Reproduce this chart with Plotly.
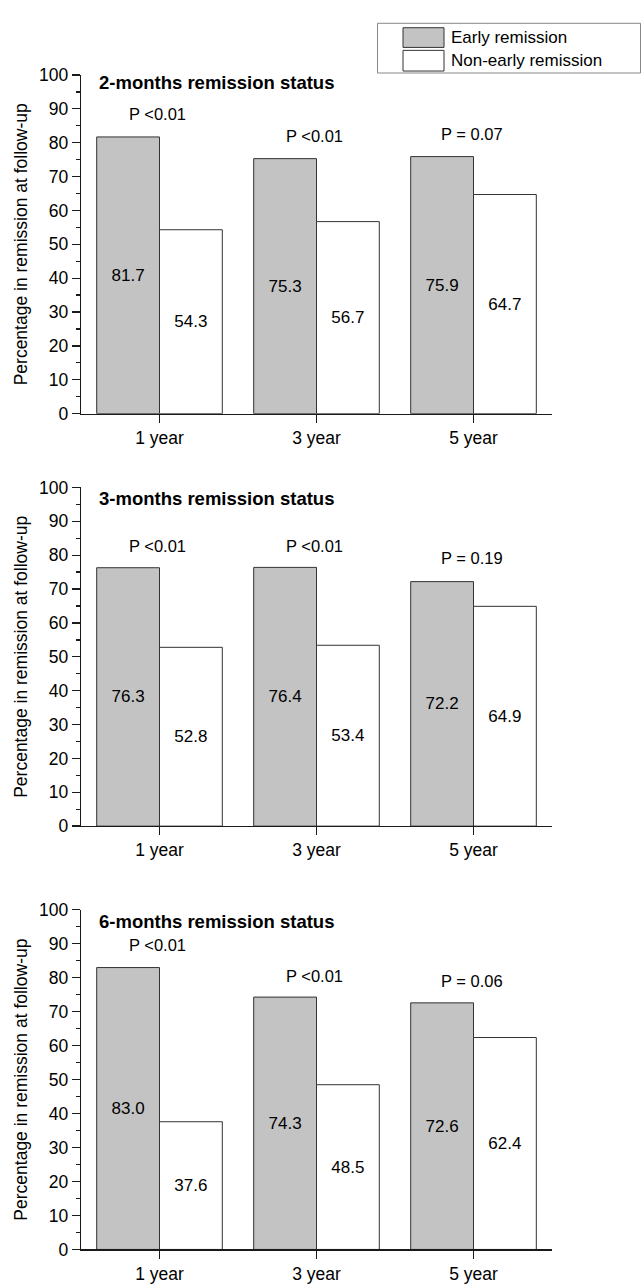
import plotly.graph_objects as go

categories = ["1 year", "3 year", "5 year"]
panel_titles = ["2-months remission status", "3-months remission status", "6-months remission status"]

early_2m = [81.7, 75.3, 75.9]
non_2m = [54.3, 56.7, 64.7]
early_3m = [76.3, 76.4, 72.2]
non_3m = [52.8, 53.4, 64.9]
early_6m = [83.0, 74.3, 72.6]
non_6m = [37.6, 48.5, 62.4]

p_2m = ["P <0.01", "P <0.01", "P = 0.07"]
p_2m_y = [88.4, 81.9, 82.6]
p_3m = ["P <0.01", "P <0.01", "P = 0.19"]
p_3m_y = [82.8, 82.8, 79.1]
p_6m = ["P <0.01", "P <0.01", "P = 0.06"]
p_6m_y = [89.6, 80.6, 79.1]

y_ticks = [0, 10, 20, 30, 40, 50, 60, 70, 80, 90, 100]

early_sets = [early_2m, early_3m, early_6m]
non_sets = [non_2m, non_3m, non_6m]
p_sets = [p_2m, p_3m, p_6m]
p_y_sets = [p_2m_y, p_3m_y, p_6m_y]

W, H = 641, 1288
FONT = "Liberation Sans, Arial, sans-serif"
GRAY = "#c3c3c3"
EDGE = "#333333"
AX = "#1a1a1a"

# pixel layout of panels (top, bottom)
panels_px = [(66, 410), (485, 829), (914, 1259)]
title_px = [74, 496, 926]
x0_px, x1_px = 81, 552

fig = go.Figure()
layout = dict(
    width=W, height=H,
    margin=dict(l=0, r=0, t=0, b=0),
    paper_bgcolor="white", plot_bgcolor="white",
    barmode="group", bargap=0.2, bargroupgap=0,
    showlegend=False,
    font=dict(family=FONT, size=17, color="black"),
    annotations=[], shapes=[],
)

for i in range(3):
    sfx = "" if i == 0 else str(i + 1)
    xa, ya = "x" + sfx, "y" + sfx
    fig.add_trace(go.Bar(
        x=categories, y=early_sets[i], name="Early remission",
        marker=dict(color=GRAY, line=dict(color=EDGE, width=1)),
        texttemplate="%{y:.1f}", textposition="inside", insidetextanchor="middle",
        textangle=0, textfont=dict(size=17, color="black", family=FONT),
        xaxis=xa, yaxis=ya, hoverinfo="skip",
    ))
    fig.add_trace(go.Bar(
        x=categories, y=non_sets[i], name="Non-early remission",
        marker=dict(color="white", line=dict(color=EDGE, width=1)),
        texttemplate="%{y:.1f}", textposition="inside", insidetextanchor="middle",
        textangle=0, textfont=dict(size=17, color="black", family=FONT),
        xaxis=xa, yaxis=ya, hoverinfo="skip",
    ))
    top, bot = panels_px[i]
    layout["xaxis" + sfx] = dict(
        domain=[x0_px / W, x1_px / W], anchor=ya,
        type="category", range=[-0.5, 2.5],
        showline=True, linecolor=AX, linewidth=1.3,
        ticks="outside", ticklen=8, tickcolor=AX, tickwidth=1.3,
        tickfont=dict(size=17.5, family=FONT, color="black"),
        showgrid=False, zeroline=False, fixedrange=True,
    )
    layout["yaxis" + sfx] = dict(
        domain=[1 - bot / H, 1 - top / H], anchor=xa,
        range=[0, 100], tickvals=y_ticks,
        showline=True, linecolor=AX, linewidth=1.3,
        ticks="outside", ticklen=8, tickcolor=AX, tickwidth=1.3,
        minor=dict(ticks="outside", ticklen=4, dtick=5, tickcolor=AX, tickwidth=1.3, showgrid=False),
        tickfont=dict(size=17.5, family=FONT, color="black"),
        title=dict(text="Percentage in remission at follow-up",
                   font=dict(size=17.5, family=FONT, color="black"), standoff=7),
        showgrid=False, zeroline=False, fixedrange=True,
    )
    layout["annotations"].append(dict(
        text="<b>" + panel_titles[i] + "</b>", xref="paper", yref="paper",
        x=97 / W, y=1 - title_px[i] / H, xanchor="left", yanchor="middle",
        showarrow=False, font=dict(size=18.5, family=FONT, color="black"),
    ))
    for c, lab, yy in zip(categories, p_sets[i], p_y_sets[i]):
        layout["annotations"].append(dict(
            text=lab, x=c, y=yy, xref=xa, yref=ya, xshift=-2,
            xanchor="center", yanchor="middle", showarrow=False,
            font=dict(size=16.5, family=FONT, color="black"),
        ))

# legend box (drawn in paper coordinates)
def px(xp):
    return xp / W

def py(yp):
    return 1 - yp / H

layout["shapes"].append(dict(type="rect", xref="paper", yref="paper",
                             x0=px(377.5), x1=px(640.5), y0=py(64), y1=py(13.5),
                             line=dict(color="#888888", width=1), fillcolor="white"))
legend_items = [("Early remission", GRAY, 18, 38), ("Non-early remission", "white", 41, 62)]
for name, col, t, b in legend_items:
    layout["shapes"].append(dict(type="rect", xref="paper", yref="paper",
                                 x0=px(403), x1=px(444), y0=py(b), y1=py(t),
                                 line=dict(color=EDGE, width=1), fillcolor=col))
    layout["annotations"].append(dict(
        text=name, xref="paper", yref="paper", x=px(449), y=py((t + b) / 2),
        xanchor="left", yanchor="middle", showarrow=False,
        font=dict(size=17, family=FONT, color="black"),
    ))

fig.update_layout(**layout)
fig.write_html("out.html", config={"displayModeBar": False, "staticPlot": True})

# remove the browser's default body margin so the figure sits at the page origin
with open("out.html", "r", encoding="utf-8") as f:
    html = f.read()
html = html.replace("<body>", '<body style="margin:0;padding:0;overflow:hidden;">', 1)
with open("out.html", "w", encoding="utf-8") as f:
    f.write(html)
